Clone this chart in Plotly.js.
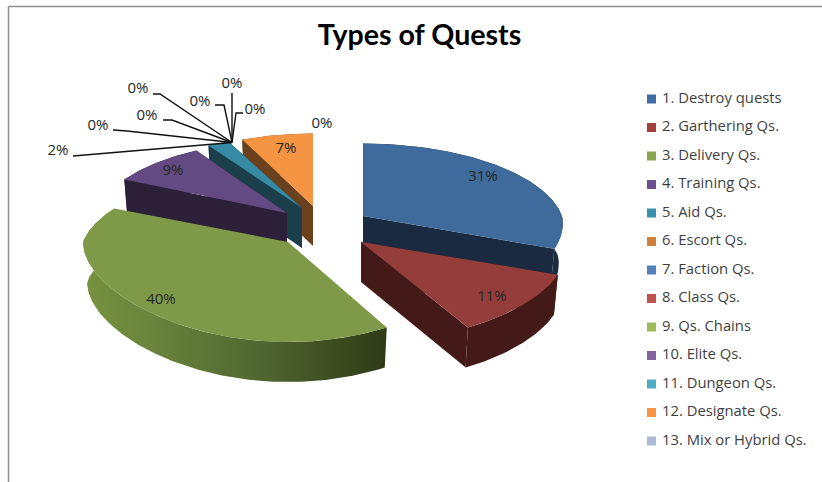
<!DOCTYPE html>
<html><head><meta charset="utf-8">
<script src="https://cdn.plot.ly/plotly-3.0.1.min.js"></script>
<style>html,body{margin:0;padding:0;background:#fff}#c{width:822px;height:482px}</style>
</head><body><div id="c"></div>
<script>
// ---- data ----
const categories = ["1. Destroy quests","2. Garthering Qs.","3. Delivery Qs.","4. Training Qs.","5. Aid Qs.","6. Escort Qs.","7. Faction Qs.","8. Class Qs.","9. Qs. Chains","10. Elite Qs.","11. Dungeon Qs.","12. Designate Qs.","13. Mix or Hybrid Qs."];
const values = [31,11,40,9,2,0,0,0,0,0,0,7,0];
const legendColors = ["#3f6da3","#a33f3c","#88a64e","#6b4f90","#3a91ab","#d27e3c","#4f81bd","#c0504d","#9bbb59","#8064a2","#4bacc6","#f79646","#aabad7"];
const topColors = ["#3e6a9c","#953d3b","#7e9a48","#644a82","#378aa3","","","","","","","#f59443",""];
const wallColors = ["#1a2a40","#431a18","","#2c2038","#1a3e4a","","","","","","","#6b401c",""];
const greenWall = [[0,"#76923f"],[0.2,"#6b853c"],[0.6,"#4f6530"],[1,"#2f3b16"]];

// ---- presentation geometry ----
const RY=84, DEPTH=40, PERSP=0.16, BASE_SHRINK=0.98;
const apex = {0:[363,216],1:[361,242],2:[288,242],3:[287,213],4:[302,208],11:[313,206]};
const sliceRx = {0:199,1:205,2:205,3:192,4:198,11:190};
const sliceFront = {0:0.09,1:0.086,2:0,3:0,4:0,11:0};
const drawOrder = [0,1,11,4,3,2];
const labelAt = {0:[483,177],1:[492,297],2:[161,300],3:[173,171],4:[58,151],5:[138,89],6:[147,116],7:[98,126],8:[200,102],9:[232,84],10:[255,110],11:[286,149],12:[322,124]};
const leaderHub = [232,142.5];
const leaders = {4:[[73,156]],5:[[153,94],[160,94]],6:[[163,120],[172,120]],7:[[113,130],[127,131]],8:[[215,105],[224,105]],9:[[232,93]],10:[[243,113],[236,113]]};

function point(i, deg, drop){
  const c=apex[i], t=deg*Math.PI/180, u=Math.sin(t), v=Math.cos(t);
  const sx = v>0 ? 1/(1+PERSP*v) : 1/(1+sliceFront[i]*v);
  const sy = 1/(1+PERSP*v);
  const k = drop ? BASE_SHRINK : 1;
  return [c[0]+sliceRx[i]*u*sx*k, c[1]-RY*v*sy+(drop||0)];
}
function poly(pts, fill, extra){
  return Object.assign({type:"scatter",mode:"lines",x:pts.map(p=>p[0]),y:pts.map(p=>p[1]),
    fill:"toself",fillcolor:fill,line:{width:0},hoverinfo:"skip",showlegend:false},extra||{});
}
function arc(i,a,b,drop){const out=[];const n=Math.max(2,Math.ceil(Math.abs(b-a)));
  for(let k=0;k<=n;k++)out.push(point(i,a+(b-a)*k/n,drop));return out;}

const total = values.reduce((s,v)=>s+v,0);
const spans = {}; let cum=0;
values.forEach((v,i)=>{spans[i]=[cum/total*360,(cum+v)/total*360];cum+=v;});

const traces=[];
drawOrder.forEach(i=>{
  const c=apex[i],[a,b]=spans[i],w=wallColors[i];
  const low=[c[0],c[1]+DEPTH];
  if(i!==2){
    traces.push(poly([c,point(i,a),point(i,a,DEPTH),low],w));
    traces.push(poly([c,point(i,b),point(i,b,DEPTH),low],w));
    traces.push(poly(arc(i,a,b,0).concat(arc(i,b,a,DEPTH)),w));
  }else{
    traces.push(poly(arc(i,a,b,0).concat(arc(i,b,a,DEPTH)),"#5a7030",
      {fillgradient:{type:"horizontal",colorscale:greenWall,start:85,stop:385}}));
  }
  traces.push(poly([c].concat(arc(i,a,b,0)),topColors[i]));
});

// leader lines
const lx=[],ly=[];
Object.values(leaders).forEach(pts=>{pts.concat([leaderHub]).forEach(p=>{lx.push(p[0]);ly.push(p[1]);});lx.push(null);ly.push(null);});
traces.push({type:"scatter",mode:"lines",x:lx,y:ly,line:{color:"#111",width:1.4},hoverinfo:"skip",showlegend:false});

// percentage labels
traces.push({type:"scatter",mode:"text",x:values.map((v,i)=>labelAt[i][0]),y:values.map((v,i)=>labelAt[i][1]),
  text:values.map(v=>Math.round(v/total*100)+"%"),textposition:"middle center",
  textfont:{family:"Open Sans",size:15,color:"#262626"},hoverinfo:"skip",showlegend:false});

// legend column
const legX=651.5, legY0=99, legStep=28.5;
traces.push({type:"scatter",mode:"markers",x:categories.map(()=>legX),y:categories.map((c,i)=>legY0+i*legStep),
  marker:{symbol:"square",size:9,color:legendColors,line:{width:0}},hoverinfo:"skip",showlegend:false});
traces.push({type:"scatter",mode:"text",x:categories.map(()=>662),y:categories.map((c,i)=>legY0+i*legStep),
  text:categories,textposition:"middle right",
  textfont:{family:"Open Sans",size:14.8,color:"#3f3f3f"},hoverinfo:"skip",showlegend:false});

const layout={width:822,height:482,margin:{l:0,r:0,t:0,b:0},paper_bgcolor:"#fff",plot_bgcolor:"#fff",showlegend:false,
  title:{text:"<b>Types of Quests</b>",font:{family:"Lato",size:28.6,color:"#000"},x:419.5/822,xanchor:"center",y:1-35/482,yanchor:"middle"},
  xaxis:{range:[0,822],visible:false,fixedrange:true},
  yaxis:{range:[482,0],visible:false,fixedrange:true},
  shapes:[
    {type:"line",xref:"x",yref:"y",x0:8.5,x1:8.5,y0:6.5,y1:482,line:{color:"#8e8e8e",width:1.5}},
    {type:"line",xref:"x",yref:"y",x0:8.5,x1:822,y0:6.5,y1:6.5,line:{color:"#8e8e8e",width:1.5}}
  ]};
Plotly.newPlot("c",traces,layout,{displayModeBar:false,staticPlot:true});
</script></body></html>
